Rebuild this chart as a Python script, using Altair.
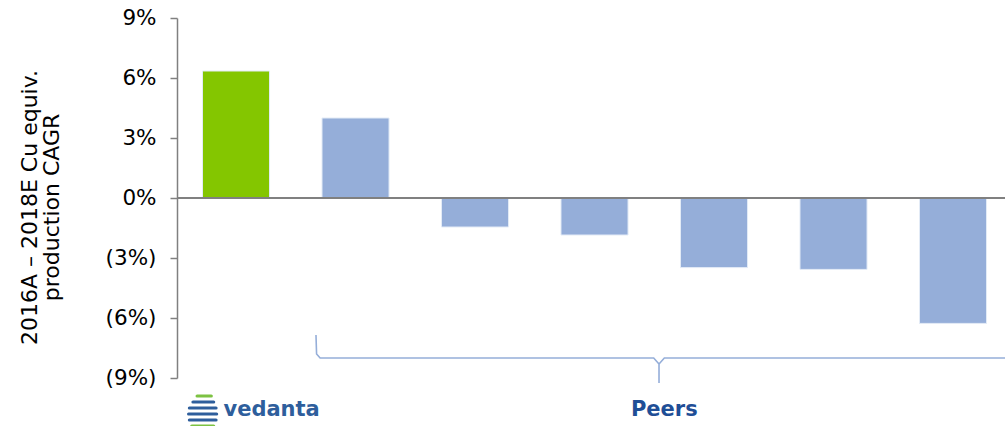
import altair as alt
import pandas as pd

categories = ["Vedanta", "Peer A", "Peer B", "Peer C", "Peer D", "Peer E", "Peer F"]
cagr = [6.35, 4.0, -1.45, -1.85, -3.48, -3.57, -6.27]
colors = ["#84C600", "#95AED9", "#95AED9", "#95AED9", "#95AED9", "#95AED9", "#95AED9"]
y_ticks = [-9, -6, -3, 0, 3, 6, 9]

# bracket spanning the peer columns (category-index units, % units)
br_x = [1.175, 1.18, 1.21, 4.03, 4.075, 4.075, 4.075, 4.12, 7.0]
br_y = [-6.85, -7.8, -8.0, -8.0, -8.3, -9.25, -8.3, -8.0, -8.0]
br_seg = [0, 0, 0, 0, 0, 0, 1, 1, 1]
br_ord = [0, 1, 2, 3, 4, 5, 0, 1, 2]

# logo emblem stripes (x start, x end, y level, colour)
em_x0 = [0.17, 0.135, 0.105, 0.098, 0.105, 0.125, 0.16]
em_x1 = [0.29, 0.31, 0.33, 0.335, 0.33, 0.31, 0.28]
em_y = [-9.9, -10.2, -10.5, -10.8, -11.1, -11.4, -11.7]
em_c = ["#7DC242", "#2E5E9C", "#2E5E9C", "#2E5E9C", "#2E5E9C", "#7DC242", "#7DC242"]

W, H = 828, 360
FONT = "DejaVu Sans"

bars_df = pd.DataFrame({"cat": categories, "v": cagr, "c": colors})
br_df = pd.DataFrame({"x": br_x, "y": br_y, "seg": br_seg, "o": br_ord})

yscale = alt.Scale(domain=[-9, 9], nice=False)
label_expr = "datum.value < 0 ? '(' + abs(datum.value) + '%)' : datum.value + '%'"

bars = alt.Chart(bars_df).mark_bar(stroke="#e3ebf6", strokeWidth=1).encode(
    x=alt.X("cat:N", sort=categories,
            scale=alt.Scale(paddingInner=0.439, paddingOuter=0.184, align=0.58),
            axis=None),
    y=alt.Y("v:Q", scale=yscale,
            axis=alt.Axis(values=y_ticks, labelExpr=label_expr, grid=False,
                          domainColor="#808080", domainWidth=1.5,
                          tickColor="#808080", tickWidth=1.5, tickSize=7,
                          labelFont=FONT, labelFontSize=21.5, labelColor="#000000",
                          labelPadding=14,
                          title=["2016A – 2018E Cu equiv.", "production CAGR"],
                          titleFont=FONT, titleFontSize=22, titleFontWeight="normal",
                          titleColor="#000000", titlePadding=42, titleLineHeight=22,
                          titleY=189)),
    y2=alt.datum(0),
    color=alt.Color("c:N", scale=None),
)

zero = alt.Chart(pd.DataFrame({"z": [0]})).mark_rule(color="#808080", strokeWidth=2).encode(
    y=alt.Y("z:Q", scale=yscale),
)

xq = alt.Scale(domain=[0, 7], nice=False, zero=False)

bracket = alt.Chart(br_df).mark_line(color="#95AED9", strokeWidth=1.6, clip=False).encode(
    x=alt.X("x:Q", scale=xq, axis=None),
    y=alt.Y("y:Q", scale=yscale),
    detail="seg:N",
    order="o:Q",
)

peers = alt.Chart(pd.DataFrame({"x": [4.12], "y": [-10.6], "t": ["Peers"]})).mark_text(
    font=FONT, fontSize=21, fontWeight="bold", color="#1F4E96", align="center", baseline="middle"
).encode(x=alt.X("x:Q", scale=xq, axis=None), y=alt.Y("y:Q", scale=yscale), text="t:N")

logo_txt = alt.Chart(pd.DataFrame({"x": [0.80], "y": [-10.6], "t": ["vedanta"]})).mark_text(
    font=FONT, fontSize=21, fontWeight="bold", color="#2E5E9C", align="center", baseline="middle"
).encode(x=alt.X("x:Q", scale=xq, axis=None), y=alt.Y("y:Q", scale=yscale), text="t:N")

em_df = pd.DataFrame({
    "x": em_x0 + em_x1,
    "y": em_y + em_y,
    "k": list(range(len(em_y))) * 2,
    "c": em_c + em_c,
})
emblem = alt.Chart(em_df).mark_line(strokeWidth=3.2, strokeCap="round").encode(
    x=alt.X("x:Q", scale=xq, axis=None), y=alt.Y("y:Q", scale=yscale),
    detail="k:N", color=alt.Color("c:N", scale=None),
)

chart = alt.layer(bars, zero, bracket, peers, logo_txt, emblem).resolve_scale(x="independent").properties(
    width=W, height=H,
    background="#ffffff",
    autosize=alt.AutoSizeParams(type="none"),
    padding={"left": 177, "top": 18, "right": 0, "bottom": 48},
).configure_view(strokeWidth=0, stroke="transparent")

chart.save("out.html", embed_options={"renderer": "svg", "actions": False})
